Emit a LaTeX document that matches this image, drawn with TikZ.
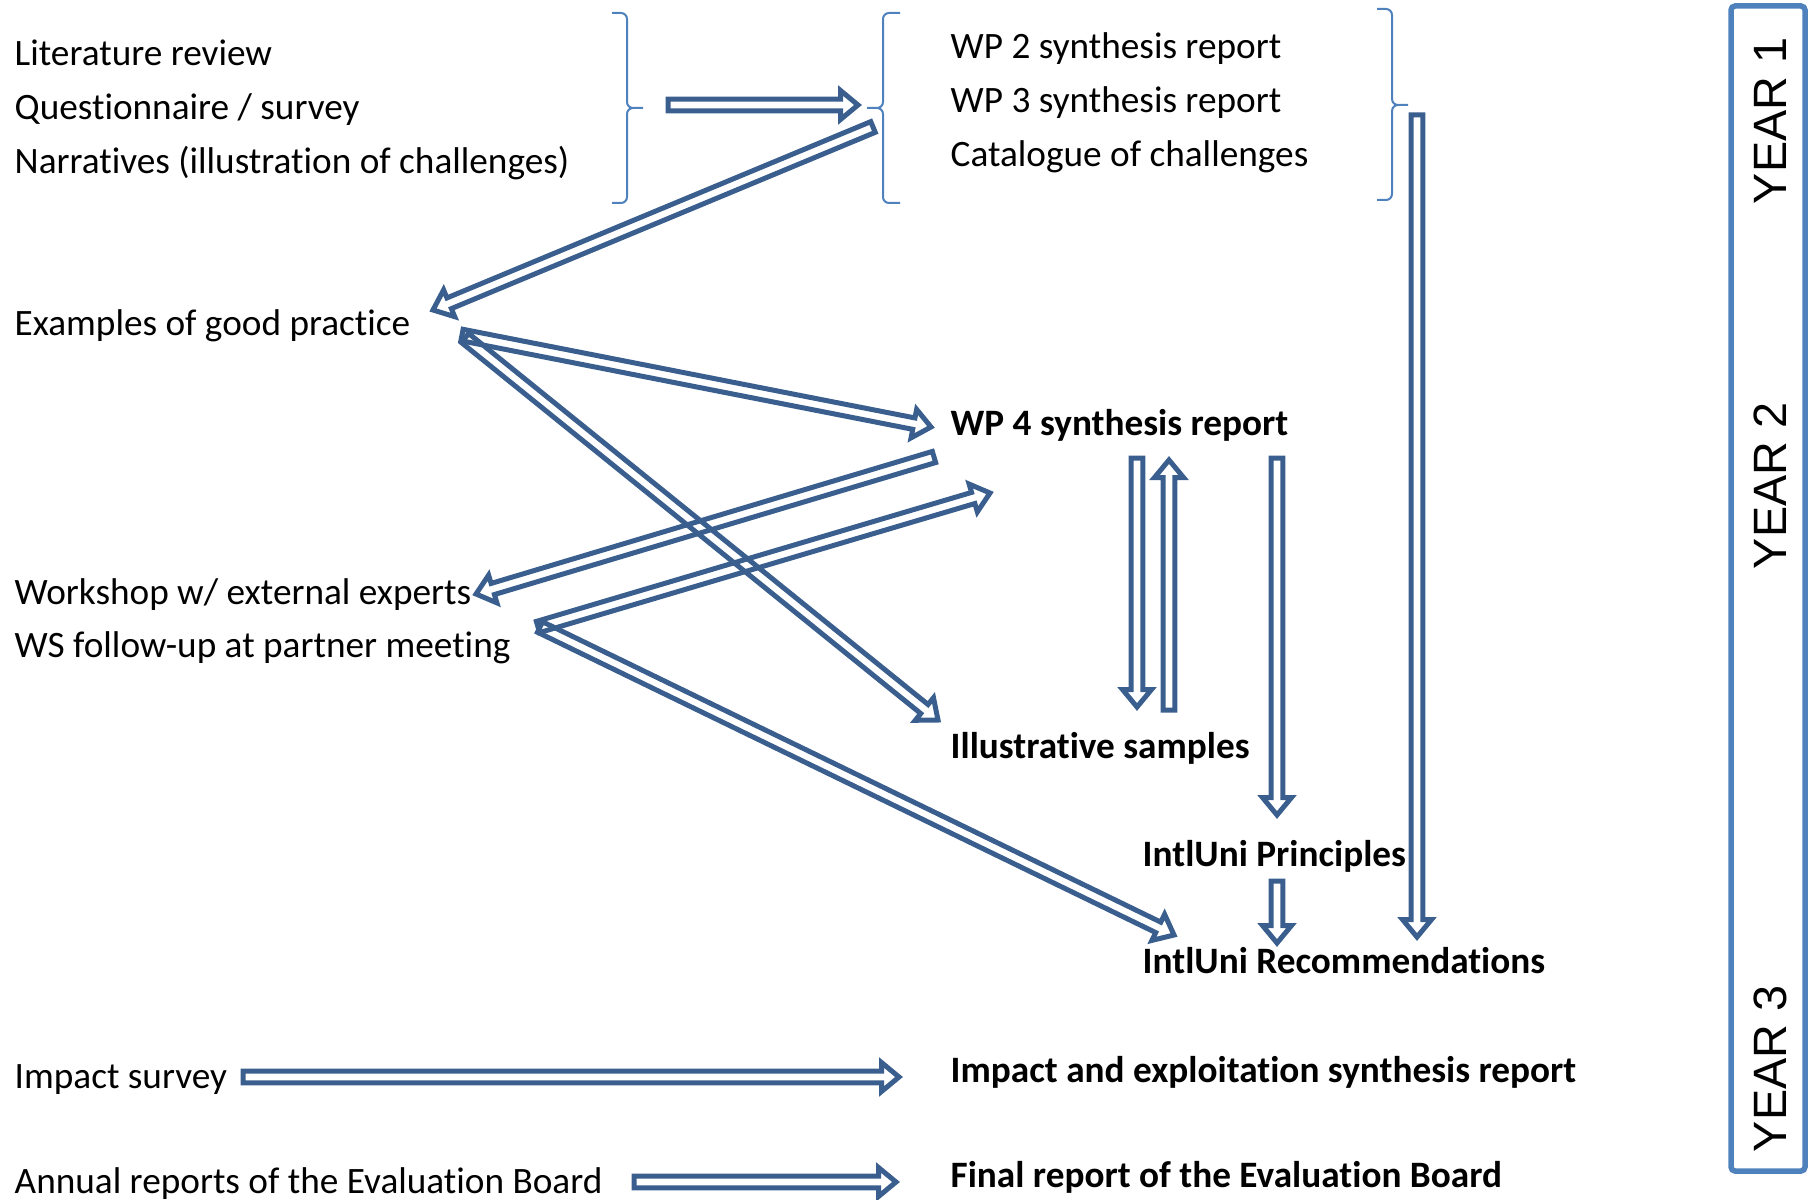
\documentclass[tikz,border=0pt]{standalone}
\usepackage{fontspec}
\setmainfont{Carlito}[Ligatures=NoCommon]
\newfontfamily\yearfont{Liberation Sans}
\usetikzlibrary{calc, positioning}

\definecolor{arrowblue}{HTML}{3A5F8E}
\definecolor{lineblue}{HTML}{4F81BD}

\newcommand{\blkarrow}[2]{%
  \coordinate (hb) at ($(#2)!\headlen!(#1)$);
  \draw[blk] ($(#1)!\shaftw!90:(#2)$) -- ($(hb)!\shaftw!90:(#2)$)
    -- ($(hb)!\headw!90:(#2)$) -- (#2) -- ($(hb)!\headw!-90:(#2)$)
    -- ($(hb)!\shaftw!-90:(#2)$) -- ($(#1)!\shaftw!-90:(#2)$) -- cycle;}

\begin{document}
\begin{tikzpicture}[x=0.1mm, y=-0.1mm,
  txt/.style={anchor=base west, inner sep=0pt, font=\fontsize{10.6pt}{12pt}\selectfont},
  txtb/.style={txt, font=\fontsize{10.6pt}{12pt}\selectfont\bfseries},
  blk/.style={draw=arrowblue, line width=0.5mm, line join=miter},
  curly/.style={draw=lineblue, line width=0.2mm, rounded corners=0.6mm},
  year/.style={rotate=90, inner sep=0pt, font=\yearfont\fontsize{13.3pt}{15pt}\selectfont}]
\def\shaftw{0.58mm}
\def\headw{1.45mm}
\def\headlen{1.75mm}

\useasboundingbox (0,0) rectangle (1814,1200);

% left column
\node[txt] (lit) at (14,66) {Literature review};
\node[txt] (quest) at (14,120) {Questionnaire / survey};
\node[txt] (narr) at (14,173) {Narratives (illustration of challenges)};
\node[txt] (good) at (14,335) {Examples of good practice};
\node[txt] (wshop) at (14,604) {Workshop w/ external experts};
\node[txt] (wsfollow) at (14,657) {WS follow-up at partner meeting};
\node[txt] (impsurv) at (14,1088) {Impact survey};
\node[txt] (annual) at (14,1193) {Annual reports of the Evaluation Board};

% right column
\node[txt] (wpii) at (950,59) {WP 2 synthesis report};
\node[txt] (wpiii) at (950,113) {WP 3 synthesis report};
\node[txt] (catal) at (950,167) {Catalogue of challenges};
\node[txtb] (wpiv) at (950,435) {WP 4 synthesis report};
\node[txtb] (illus) at (950,758) {Illustrative samples};
\node[txtb] (princ) at (1142,866) {IntlUni Principles};
\node[txtb] (recom) at (1142,973) {IntlUni Recommendations};
\node[txtb] (impsyn) at (950,1082) {Impact and exploitation synthesis report};
\node[txtb] (final) at (950,1187) {Final report of the Evaluation Board};

% braces
\draw[curly] (612,13) -- (627,13) -- (627,108) -- (643,108)
  (612,203) -- (627,203) -- (627,108) -- (643,108);
\draw[curly] (900,13) -- (883,13) -- (883,108) -- (867,108)
  (900,203) -- (883,203) -- (883,108) -- (867,108);
\draw[curly] (1377,9) -- (1392,9) -- (1392,105) -- (1408,105)
  (1377,200) -- (1392,200) -- (1392,105) -- (1408,105);

% years
\draw[draw=lineblue, line width=0.55mm, rounded corners=0.4mm] (1731,6) rectangle (1805,1171);
\node[year] (yi) at (1770,121) {YEAR 1};
\node[year] (yii) at (1770,486) {YEAR 2};
\node[year] (yiii) at (1770,1069) {YEAR 3};

% arrow ends
\coordinate (topT) at (668,105);
\coordinate (topH) at (858,105);
\coordinate (narrT) at (873,127);
\coordinate (goodH) at (433,310);
\coordinate (goodTa) at (462,335);
\coordinate (wpivHa) at (931,427);
\coordinate (goodTb) at (465,338);
\coordinate (illusH) at (938,720);
\coordinate (wpivT) at (934,457);
\coordinate (wshopH) at (476,594);
\coordinate (wsfTa) at (538,627);
\coordinate (wpivHb) at (990,493);
\coordinate (wsfTb) at (540,627);
\coordinate (recomH) at (1174,935);
\coordinate (pairT) at (1137,458);
\coordinate (pairH) at (1137,707);
\coordinate (backT) at (1169,710);
\coordinate (backH) at (1169,460);
\coordinate (princT) at (1277,458);
\coordinate (princH) at (1277,815);
\coordinate (recT) at (1277,881);
\coordinate (recH) at (1277,943);
\coordinate (longT) at (1417,115);
\coordinate (longH) at (1417,937);
\coordinate (impT) at (243,1077);
\coordinate (impH) at (899,1077);
\coordinate (annT) at (634,1182);
\coordinate (annH) at (896,1182);

\blkarrow{topT}{topH}
\blkarrow{narrT}{goodH}
\blkarrow{goodTa}{wpivHa}
\blkarrow{goodTb}{illusH}
\blkarrow{wpivT}{wshopH}
\blkarrow{wsfTa}{wpivHb}
\blkarrow{wsfTb}{recomH}
\blkarrow{pairT}{pairH}
\blkarrow{backT}{backH}
\blkarrow{princT}{princH}
\blkarrow{recT}{recH}
\blkarrow{longT}{longH}
\blkarrow{impT}{impH}
\blkarrow{annT}{annH}

\end{tikzpicture}
\end{document}
